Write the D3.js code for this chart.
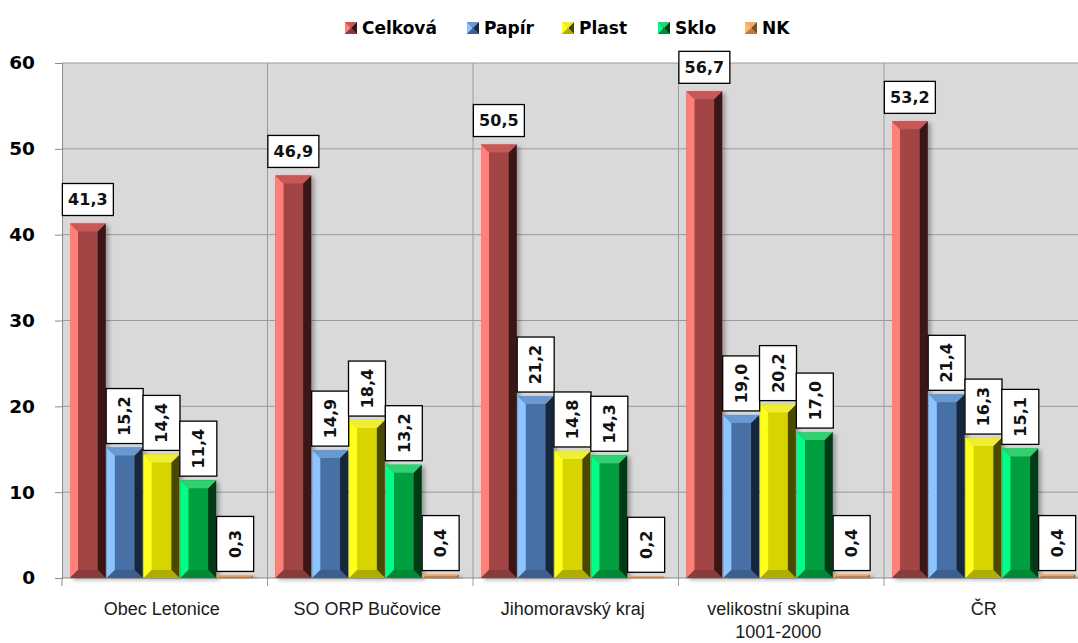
<!DOCTYPE html>
<html><head><meta charset="utf-8">
<script src="https://cdn.jsdelivr.net/npm/d3@7"></script>
<style>html,body{margin:0;padding:0;background:#fff;overflow:hidden}</style>
</head><body>
<svg id="c" width="1078" height="643"></svg>
<script>
const categories = ["Obec Letonice", "SO ORP Bučovice", "Jihomoravský kraj", "velikostní skupina\n1001-2000", "ČR"];
const seriesNames = ["Celková", "Papír", "Plast", "Sklo", "NK"];
const celkova = [41.3, 46.9, 50.5, 56.7, 53.2];
const papir = [15.2, 14.9, 21.2, 19.0, 21.4];
const plast = [14.4, 18.4, 14.8, 20.2, 16.3];
const sklo = [11.4, 13.2, 14.3, 17.0, 15.1];
const nk = [0.3, 0.4, 0.2, 0.4, 0.4];
const yTicks = [0, 10, 20, 30, 40, 50, 60];

const seriesValues = [celkova, papir, plast, sklo, nk];
const palette = [
  {light:"#ff8078", mid:"#a34545", dark:"#3a1515", top:"#c65858", bot:"#8a3a3a"},
  {light:"#8cc4ff", mid:"#4670a6", dark:"#18283e", top:"#6a98d0", bot:"#3a6090"},
  {light:"#ffff1a", mid:"#d8d400", dark:"#4a4800", top:"#eeee30", bot:"#b0ac00"},
  {light:"#00ff88", mid:"#00a040", dark:"#003a18", top:"#30d070", bot:"#008a36"},
  {light:"#ffb878", mid:"#e09250", dark:"#804f20", top:"#f0a868", bot:"#c07a40"}
];

const svg = d3.select("#c");
const pLeft = 62, pTop = 63, pBottom = 578, catW = 205.5;
const pRight = pLeft + catW * categories.length;

const x0 = d3.scaleBand().domain(categories).range([pLeft, pRight]);
const x1 = d3.scaleBand().domain(seriesNames).range([8, 191]).paddingInner(0.03);
const y = d3.scaleLinear().domain([0, 60]).range([pBottom, pTop]);

// plot background
svg.append("rect").attr("x", pLeft).attr("y", pTop).attr("width", pRight - pLeft).attr("height", pBottom - pTop).attr("fill", "#d9d9d9");

// horizontal grid
svg.append("g").selectAll("line").data(yTicks.filter(d => d > 0)).join("line")
  .attr("x1", pLeft).attr("x2", pRight).attr("y1", d => y(d)).attr("y2", d => y(d))
  .attr("stroke", "#9a9a9a").attr("stroke-width", 1);
// vertical grid at category boundaries
svg.append("g").selectAll("line").data(categories.slice(1)).join("line")
  .attr("x1", d => x0(d)).attr("x2", d => x0(d)).attr("y1", pTop).attr("y2", pBottom + 8)
  .attr("stroke", "#9a9a9a").attr("stroke-width", 1);

// y axis
const yAxis = svg.append("g").attr("transform", `translate(${pLeft},0)`)
  .call(d3.axisLeft(y).tickValues(yTicks).tickSize(7).tickPadding(20).tickFormat(d3.format("d")));
yAxis.select(".domain").attr("stroke", "#8a8a8a");
yAxis.selectAll(".tick line").attr("stroke", "#8a8a8a");
yAxis.selectAll("text").attr("font-family", "DejaVu Sans").attr("font-weight", "bold").attr("font-size", 18.5).attr("fill", "#000");

// x axis line
svg.append("line").attr("x1", pLeft).attr("x2", pRight).attr("y1", pBottom).attr("y2", pBottom).attr("stroke", "#8a8a8a");
svg.append("line").attr("x1", pLeft).attr("x2", pLeft).attr("y1", pBottom).attr("y2", pBottom + 8).attr("stroke", "#8a8a8a");

// shadow filter
const defs = svg.append("defs");
const f = defs.append("filter").attr("id", "sh").attr("x", "-20%").attr("y", "-5%").attr("width", "150%").attr("height", "115%");
f.append("feDropShadow").attr("dx", 3).attr("dy", 2).attr("stdDeviation", 2).attr("flood-color", "#000").attr("flood-opacity", 0.3);

function bevel(g, xa, xb, ya, yb, c, b) {
  const h = yb - ya;
  const bb = Math.min(b, h / 2, (xb - xa) / 2);
  const P = pts => pts.map(p => p.join(",")).join(" ");
  g.append("rect").attr("x", xa).attr("y", ya).attr("width", xb - xa).attr("height", h).attr("fill", c.mid);
  g.append("polygon").attr("points", P([[xa, ya], [xa + bb, ya + bb], [xa + bb, yb - bb], [xa, yb]])).attr("fill", c.light);
  g.append("polygon").attr("points", P([[xb, ya], [xb - bb, ya + bb], [xb - bb, yb - bb], [xb, yb]])).attr("fill", c.dark);
  g.append("polygon").attr("points", P([[xa, ya], [xb, ya], [xb - bb, ya + bb], [xa + bb, ya + bb]])).attr("fill", c.top);
  g.append("polygon").attr("points", P([[xa, yb], [xb, yb], [xb - bb, yb - bb], [xa + bb, yb - bb]])).attr("fill", c.bot);
}

// bars
categories.forEach((cat, ci) => {
  seriesNames.forEach((s, si) => {
    const v = seriesValues[si][ci];
    const xa = x0(cat) + x1(s), xb = xa + x1.bandwidth();
    const g = svg.append("g").attr("filter", "url(#sh)");
    bevel(g, xa, xb, y(v), y(0), palette[si], 8);
  });
});

// labels
const fmt = v => d3.format(".1f")(v).replace(".", ",");
categories.forEach((cat, ci) => {
  seriesNames.forEach((s, si) => {
    const v = seriesValues[si][ci];
    const cx = x0(cat) + x1(s) + x1.bandwidth() / 2;
    const g = svg.append("g");
    if (si === 0) {
      const bw = 51, bh = 32, by = y(v) - 8 - bh;
      g.append("rect").attr("x", cx - bw / 2).attr("y", by).attr("width", bw).attr("height", bh)
        .attr("fill", "#fff").attr("stroke", "#000").attr("stroke-width", 1.3);
      g.append("text").attr("x", cx).attr("y", by + bh / 2).attr("dy", "0.36em").attr("text-anchor", "middle")
        .attr("font-family", "DejaVu Sans").attr("font-weight", "bold").attr("font-size", 16).attr("fill", "#111").text(fmt(v));
    } else {
      const bw = 37, bh = 55, by = y(v) - 4 - bh;
      g.append("rect").attr("x", cx - bw / 2).attr("y", by).attr("width", bw).attr("height", bh)
        .attr("fill", "#fff").attr("stroke", "#000").attr("stroke-width", 1.3);
      g.append("text").attr("transform", `translate(${cx},${by + bh / 2}) rotate(-90)`).attr("dy", "0.36em")
        .attr("text-anchor", "middle").attr("font-family", "DejaVu Sans").attr("font-weight", "bold")
        .attr("font-size", 16).attr("fill", "#111").text(fmt(v));
    }
  });
});

// x labels
categories.forEach(cat => {
  const cx = x0(cat) + catW / 2 - 3;
  const t = svg.append("text").attr("x", cx).attr("y", 615).attr("text-anchor", "middle")
    .attr("font-family", "Liberation Sans Narrow, Liberation Sans, sans-serif").attr("font-size", 18).attr("fill", "#1a1a1a");
  cat.split("\n").forEach((ln, i) => {
    t.append("tspan").attr("x", cx).attr("dy", i === 0 ? 0 : 23).text(ln);
  });
});

// legend
const legX = [345, 467, 562, 658, 745];
seriesNames.forEach((s, si) => {
  const g = svg.append("g");
  bevel(g, legX[si], legX[si] + 12, 22, 34, palette[si], 5);
  g.append("text").attr("x", legX[si] + 17).attr("y", 34).attr("font-family", "DejaVu Sans").attr("font-weight", "bold")
    .attr("font-size", 17).attr("fill", "#000").text(s);
});
</script>
</body></html>
